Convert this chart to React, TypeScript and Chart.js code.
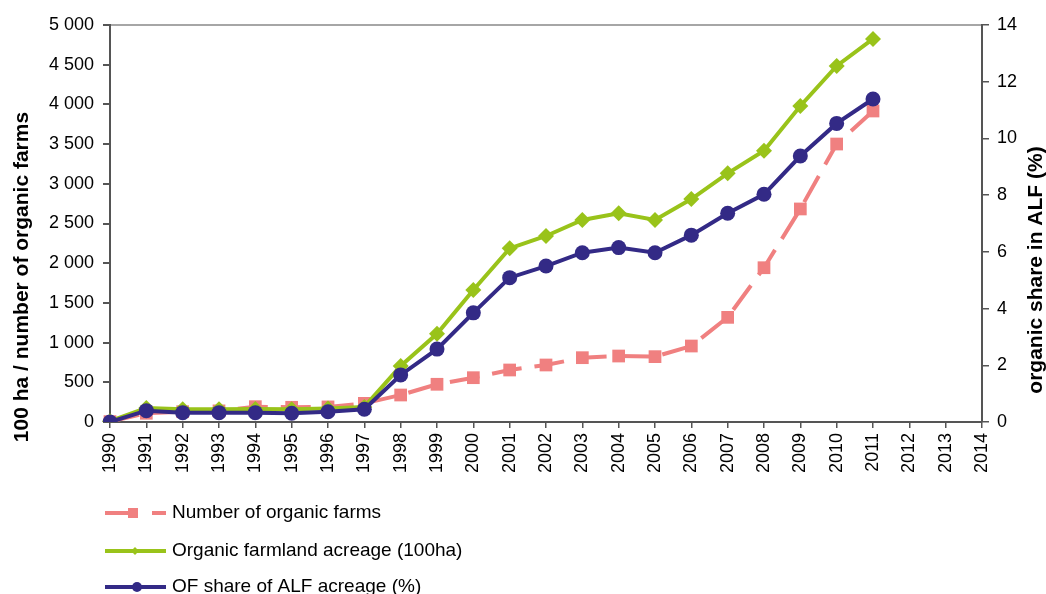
import React, { useEffect, useRef } from "react";
import { Chart, registerables } from "chart.js";

Chart.register(...registerables);

const years = [
  "1990", "1991", "1992", "1993", "1994", "1995", "1996", "1997", "1998", "1999",
  "2000", "2001", "2002", "2003", "2004", "2005", "2006", "2007", "2008", "2009",
  "2010", "2011", "2012", "2013", "2014",
];

const farms = [5, 110, 130, 140, 193, 185, 190, 235, 340, 475, 558, 655, 718, 810, 831, 823, 957, 1318, 1943, 2683, 3501, 3917, null, null, null];
const acreage = [10, 175, 160, 160, 165, 160, 170, 190, 705, 1110, 1662, 2187, 2343, 2544, 2628, 2544, 2808, 3132, 3417, 3980, 4484, 4824, null, null, null];
const share = [0, 0.4, 0.33, 0.33, 0.33, 0.31, 0.36, 0.45, 1.66, 2.57, 3.85, 5.09, 5.5, 5.97, 6.15, 5.97, 6.59, 7.36, 8.03, 9.38, 10.53, 11.39, null, null, null];

const seriesLabels = [
  "Number of organic farms",
  "Organic farmland acreage (100ha)",
  "OF share of ALF acreage (%)",
];

const leftTitle = "100 ha / number of organic farms";
const rightTitle = "organic share in ALF (%)";

const PINK = "#f08080";
const GREEN = "#99c31a";
const BLUE = "#332a86";
const FONT = "'Liberation Sans', Arial, sans-serif";

function fmt(v: number): string {
  if (v >= 1000) {
    return `${Math.floor(v / 1000)} ${String(v % 1000).padStart(3, "0")}`;
  }
  return String(v);
}

const extrasPlugin = {
  id: "extras",
  afterDraw(chart: any) {
    const ctx = chart.ctx as CanvasRenderingContext2D;
    ctx.save();
    // axis titles
    ctx.fillStyle = "#000";
    ctx.font = `bold 21px ${FONT}`;
    ctx.textAlign = "center";
    ctx.textBaseline = "middle";
    ctx.save();
    ctx.translate(22, 277);
    ctx.rotate(-Math.PI / 2);
    ctx.fillText(leftTitle, 0, 0);
    ctx.restore();
    ctx.save();
    ctx.translate(1036, 270);
    ctx.rotate(-Math.PI / 2);
    ctx.fillText(rightTitle, 0, 0);
    ctx.restore();

    // legend
    const ys = [513, 551, 587];
    const colors = [PINK, GREEN, BLUE];
    ctx.font = `19px ${FONT}`;
    ctx.textAlign = "left";
    for (let i = 0; i < 3; i++) {
      const y = ys[i];
      ctx.strokeStyle = colors[i];
      ctx.lineWidth = 4;
      ctx.setLineDash(i === 0 ? [33, 14] : []);
      ctx.beginPath();
      ctx.moveTo(105, y);
      ctx.lineTo(166, y);
      ctx.stroke();
      ctx.setLineDash([]);
      ctx.fillStyle = colors[i];
      if (i === 0) {
        ctx.fillRect(128, y - 5, 10, 10);
      } else if (i === 1) {
        ctx.beginPath();
        ctx.moveTo(135, y - 4);
        ctx.lineTo(139, y);
        ctx.lineTo(135, y + 4);
        ctx.lineTo(131, y);
        ctx.closePath();
        ctx.fill();
      } else {
        ctx.beginPath();
        ctx.arc(137, y, 5, 0, Math.PI * 2);
        ctx.fill();
      }
      ctx.fillStyle = "#000";
      ctx.textBaseline = "middle";
      ctx.fillText(seriesLabels[i], 172, y);
    }
    ctx.restore();
  },
};

export default function App() {
  const ref = useRef<HTMLCanvasElement | null>(null);

  useEffect(() => {
    if (!ref.current) return;
    const chart = new Chart(ref.current, {
      type: "line",
      data: {
        labels: years,
        datasets: [
          {
            label: seriesLabels[0],
            data: farms,
            yAxisID: "y",
            borderColor: PINK,
            backgroundColor: PINK,
            borderWidth: 4,
            borderDash: [30, 13],
            pointStyle: "rect",
            pointRadius: 9,
            pointBorderWidth: 0,
            order: 2,
          },
          {
            label: seriesLabels[1],
            data: acreage,
            yAxisID: "y",
            borderColor: GREEN,
            backgroundColor: GREEN,
            borderWidth: 4,
            pointStyle: "rectRot",
            pointRadius: 8,
            pointBorderWidth: 0,
            order: 1,
          },
          {
            label: seriesLabels[2],
            data: share,
            yAxisID: "y1",
            borderColor: BLUE,
            backgroundColor: BLUE,
            borderWidth: 4,
            pointStyle: "circle",
            pointRadius: 7.5,
            pointBorderWidth: 0,
            order: 0,
          },
        ],
      },
      options: {
        responsive: true,
        maintainAspectRatio: false,
        animation: false,
        layout: { padding: { top: 25, bottom: 112, left: 0, right: 0 } },
        plugins: {
          legend: { display: false },
          tooltip: { enabled: false },
        },
        scales: {
          x: {
            offset: false,
            grid: {
              drawOnChartArea: false,
              drawTicks: true,
              tickLength: 6,
              tickColor: "#555",
              lineWidth: 1.5,
            },
            border: { color: "#555", width: 2 },
            ticks: {
              color: "#000",
              font: { family: FONT, size: 18 },
              minRotation: 90,
              maxRotation: 90,
              padding: 5,
              autoSkip: false,
            },
            afterFit(scale: any) {
              scale.height = 60;
            },
          },
          y: {
            position: "left",
            min: 0,
            max: 5000,
            grid: {
              color: (c: any) => (c.tick && c.tick.value === 5000 ? "#a6a6a6" : "rgba(0,0,0,0)"),
              lineWidth: 2,
              tickColor: "#555",
              tickLength: 7,
            },
            border: { color: "#555", width: 2 },
            ticks: {
              stepSize: 500,
              color: "#000",
              font: { family: FONT, size: 18 },
              padding: 9,
              callback: (v: any) => fmt(Number(v)),
            },
            afterFit(scale: any) {
              scale.width = 110;
            },
          },
          y1: {
            position: "right",
            min: 0,
            max: 14,
            grid: {
              drawOnChartArea: false,
              tickColor: "#555",
              tickLength: 7,
              lineWidth: 1.5,
            },
            border: { color: "#555", width: 2 },
            ticks: {
              stepSize: 2,
              color: "#000",
              font: { family: FONT, size: 18 },
              padding: 8,
            },
            afterFit(scale: any) {
              scale.width = 64;
            },
          },
        },
      },
      plugins: [extrasPlugin],
    });
    return () => chart.destroy();
  }, []);

  return (
    <div style={{ position: "fixed", left: 0, top: 0, width: 1046, height: 594, background: "#fff" }}>
      <canvas ref={ref} />
    </div>
  );
}
